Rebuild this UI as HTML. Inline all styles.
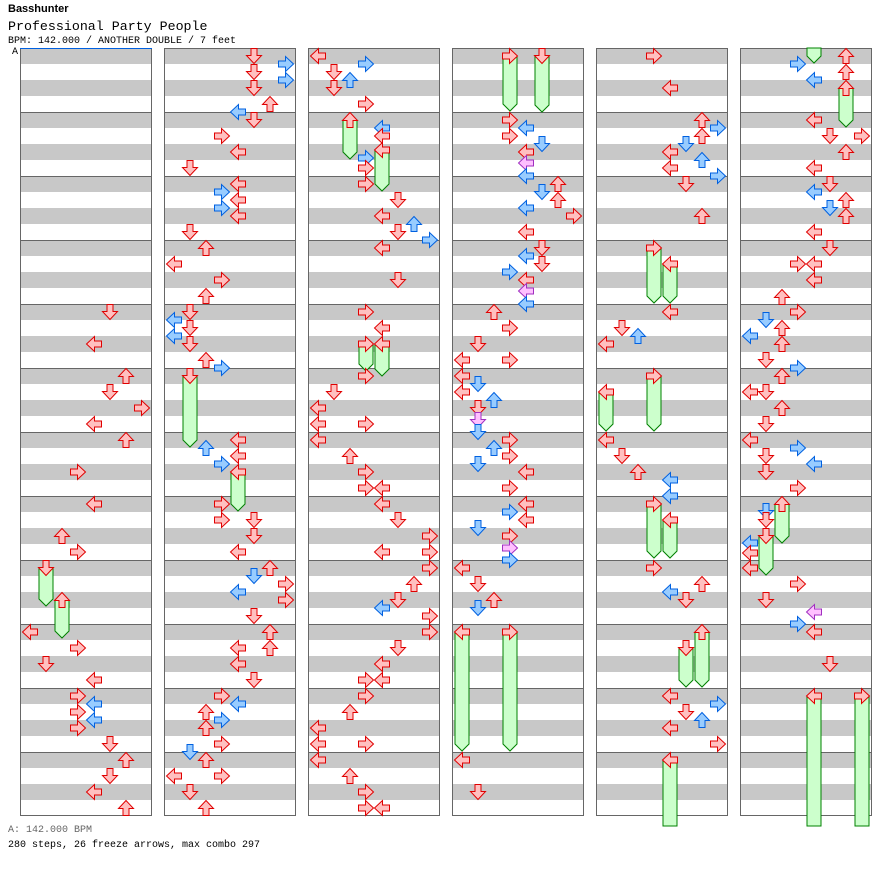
<!DOCTYPE html>
<html><head><meta charset="utf-8"><style>
html,body{margin:0;padding:0;background:#fff;width:896px;height:876px;overflow:hidden;position:relative}
.t{position:absolute;white-space:pre;color:#000}
</style></head><body>
<div class="t" style="left:8px;top:3px;font:bold 11px 'Liberation Sans',sans-serif">Basshunter</div>
<div class="t" style="left:8px;top:19px;font:13.3px 'Liberation Mono',monospace">Professional Party People</div>
<div class="t" style="left:8px;top:36px;font:10px 'Liberation Mono',monospace">BPM: 142.000 / ANOTHER DOUBLE / 7 feet</div>
<div class="t" style="left:12px;top:47px;font:10px 'Liberation Mono',monospace">A</div>
<div class="t" style="left:8px;top:825px;font:10px 'Liberation Mono',monospace;color:#666">A: 142.000 BPM</div>
<div class="t" style="left:8px;top:840px;font:10px 'Liberation Mono',monospace">280 steps, 26 freeze arrows, max combo 297</div>
<svg id="s" width="896" height="876" style="position:absolute;left:0;top:0" xmlns="http://www.w3.org/2000/svg"></svg>
<script>
var D=[
{a:"5,312 4,344 6,376 5,392 7,408 4,424 6,440 3,472 4,504 2,536 3,552 0,632 3,648 1,664 4,680 3,696 4,704,b 3,712 4,720,b 3,728 5,744 6,760 5,776 4,792 6,808",
 f:"1,568,606 2,600,638"},
{a:"5,56 7,64,b 5,72 7,80,b 5,88 6,104 4,112,b 5,120 3,136 4,152 1,168 4,184 3,192,b 4,200 3,208,b 4,216 1,232 2,248 0,264 3,280 2,296 1,312 0,320,b 1,328 0,336,b 1,344 2,360 3,368,b 4,440 2,448,b 4,456 3,464,b 3,504 3,520 5,520 5,536 4,552 6,568 5,576,b 7,584 4,592,b 7,600 5,616 6,632 4,648 6,648 4,664 5,680 3,696 4,704,b 2,712 3,720,b 2,728 3,744 1,752,b 2,760 0,776 3,776 1,792 2,808",
 f:"1,376,447 4,472,511"},
{a:"0,56 3,64,b 1,72 2,80,b 1,88 3,104 4,128,b 4,136 3,158,b 3,168 3,184 5,200 4,216 6,224,b 5,232 7,240,b 4,248 5,280 3,312 4,328 3,376 1,392 0,408 0,424 3,424 0,440 2,456 3,472 3,488 4,488 4,504 5,520 7,536 4,552 7,552 7,568 6,584 5,600 4,608,b 7,616 7,632 5,648 4,664 3,680 4,680 3,696 2,712 0,728 0,744 3,744 0,760 2,776 3,792 3,808 4,808",
 f:"2,120,159 4,150,191 3,344,371 4,344,376"},
{a:"3,120 4,128,b 3,136 5,144,b 4,152 4,163,p 4,176,b 6,184 5,192,b 6,200 4,208,b 7,216 4,232 5,248 4,256,b 5,264 3,272,b 4,280 4,291,p 4,304,b 2,312 3,328 1,344 0,360 3,360 0,376 1,384,b 0,392 2,400,b 1,408 1,420,p 1,432,b 3,440 2,448,b 3,456 1,464,b 4,472 3,488 4,504 3,512,b 4,520 1,528,b 3,536 3,548,p 3,560,b 0,568 1,584 2,600 1,608,b 0,760 1,792",
 f:"3,56,111 5,56,112 0,632,751 3,632,751"},
{a:"3,56 4,88 6,120 7,128,b 6,136 5,144,b 4,152 6,160,b 4,168 7,176,b 5,184 6,216 4,312 1,328 2,336,b 0,344 0,440 1,456 2,472 4,480,b 4,496,b 3,568 6,584 4,592,b 5,600 4,696 7,704,b 5,712 6,720,b 4,728 7,744",
 f:"3,248,303 4,264,303 3,376,431 0,392,431 3,504,558 4,520,558 6,632,687 5,648,687 4,760,830"},
{a:"6,56 3,64,b 6,72 4,80,b 4,120 5,136 7,136 6,152 4,168 5,184 4,192,b 6,200 5,208,b 6,216 4,232 5,248 3,264 4,264 4,280 2,297 3,312 1,320,b 2,328 0,336,b 2,344 1,360 3,368,b 2,376 0,392 1,392 2,408 1,424 0,440 3,448,b 1,456 4,464,b 1,472 3,488 1,511,b 1,520 0,543,b 0,553 0,568 3,584 1,600 4,612,p 3,624,b 4,632 5,664",
 f:"4,40,63 6,88,127 2,504,543 1,536,575 4,696,830 7,696,830"}
];
var S=document.getElementById('s'),h="";
var COL={r:["#ffc0c0","#e00000"],b:["#98ccff","#0060e0"],p:["#ffc0ff","#a030c0"]};
var ROT=[90,0,180,270];
for(var c=0;c<6;c++){
 var x0=20+144*c;
 h+='<rect x="'+x0+'" y="48" width="132" height="768" fill="#fff"/>';
 for(var y=48;y<816;y+=32)h+='<rect x="'+x0+'" y="'+y+'" width="132" height="16" fill="#c8c8c8"/>';
 for(var m=1;m<12;m++)h+='<line x1="'+x0+'" x2="'+(x0+132)+'" y1="'+(48+64*m+.5)+'" y2="'+(48+64*m+.5)+'" stroke="#666"/>';
 h+='<rect x="'+(x0+.5)+'" y="48.5" width="131" height="767" fill="none" stroke="#666"/>';
}
h+='<line x1="20" x2="152" y1="48.5" y2="48.5" stroke="#0060e0"/>';
for(var c=0;c<6;c++){
 var x0=20+144*c,d=D[c];
 d.f.split(" ").forEach(function(s){var p=s.split(",").map(Number);var cx=x0+10+16*p[0],ys=Math.max(p[1],48),ye=p[2];
  if(ye>820){h+='<polygon points="'+(cx-7)+','+ys+' '+(cx+7)+','+ys+' '+(cx+7)+',826 '+(cx-7)+',826" fill="#ccffcc" stroke="#008000"/>';}
  else h+='<polygon points="'+(cx-7)+','+ys+' '+(cx+7)+','+ys+' '+(cx+7)+','+(ye-7)+' '+cx+','+ye+' '+(cx-7)+','+(ye-7)+'" fill="#ccffcc" stroke="#008000"/>';
  if(p[1]>=48)h+=arrow(cx,p[1],p[0],'r');
 });
 d.a.split(" ").forEach(function(s){var p=s.split(",");var l=+p[0];h+=arrow(x0+10+16*l,+p[1],l,p[2]||'r');});
}
function arrow(cx,cy,l,k){var co=COL[k];return '<path transform="translate('+cx+','+cy+') rotate('+ROT[l%4]+')" d="M-3,-7.5H3V-0.5H7.5L0,7.5L-7.5,-0.5H-3Z" fill="'+co[0]+'" stroke="'+co[1]+'" stroke-width="1"/>';}
S.innerHTML=h;
</script>
</body></html>
